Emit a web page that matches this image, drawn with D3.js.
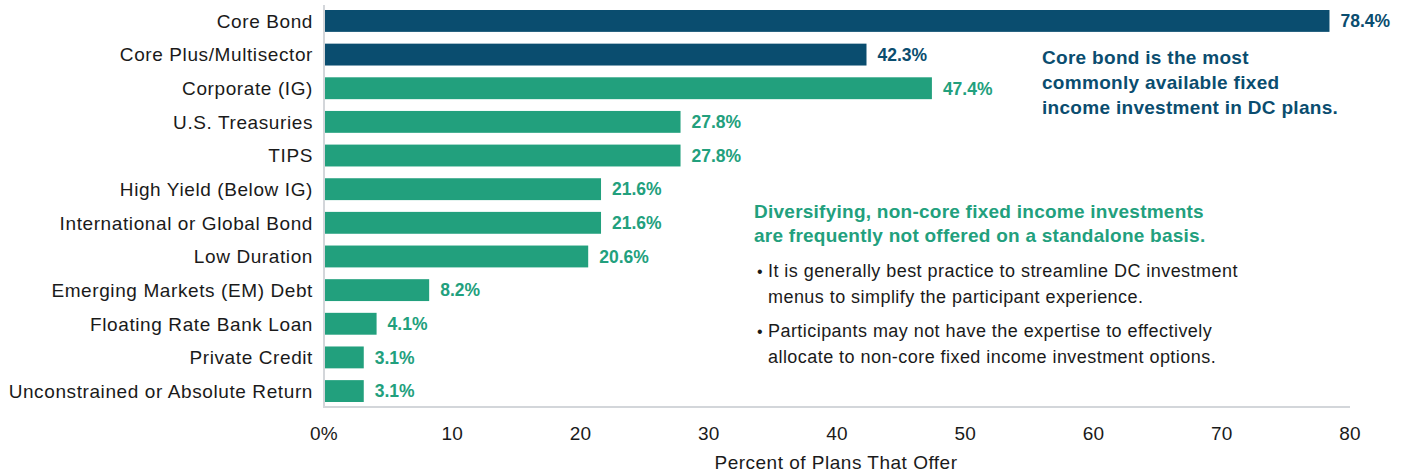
<!DOCTYPE html>
<html lang="en">
<head>
<meta charset="UTF-8">
<title>Fixed income options in DC plans</title>
<style>
  body { margin: 0; background: #fff; }
  text { font-family: "Liberation Sans", Arial, sans-serif; }
</style>
</head>
<body>
<script src="https://d3js.org/d3.v7.min.js"></script>
<script>
const categories = ["Core Bond", "Core Plus/Multisector", "Corporate (IG)", "U.S. Treasuries", "TIPS",
  "High Yield (Below IG)", "International or Global Bond", "Low Duration", "Emerging Markets (EM) Debt",
  "Floating Rate Bank Loan", "Private Credit", "Unconstrained or Absolute Return"];
const values = [78.4, 42.3, 47.4, 27.8, 27.8, 21.6, 21.6, 20.6, 8.2, 4.1, 3.1, 3.1];
const isCore = [true, true, false, false, false, false, false, false, false, false, false, false];
const xTicks = [0, 10, 20, 30, 40, 50, 60, 70, 80];
const xTitle = "Percent of Plans That Offer";
const coreNote = ["Core bond is the most", "commonly available fixed", "income investment in DC plans."];
const greenNote = ["Diversifying, non-core fixed income investments", "are frequently not offered on a standalone basis."];
const bullets = [
  ["It is generally best practice to streamline DC investment", "menus to simplify the participant experience."],
  ["Participants may not have the expertise to effectively", "allocate to non-core fixed income investment options."]
];

const width = 1406, height = 472;
const blue = "#0a4d6f", green = "#22a07d", ink = "#1a1a1a";

const svg = d3.select("body").append("svg")
  .attr("width", width).attr("height", height);

const x = d3.scaleLinear().domain([0, 80]).range([324, 1350]);
const y = d3.scaleBand().domain(categories).range([10, 402]).paddingInner(0.35).paddingOuter(0);

// axis lines (no tick marks in the original)
svg.append("line").attr("x1", 324).attr("x2", 324).attr("y1", 5).attr("y2", 407)
  .attr("stroke", "#d3d6da").attr("stroke-width", 2);
svg.append("line").attr("x1", 323).attr("x2", 1350).attr("y1", 407).attr("y2", 407)
  .attr("stroke", "#d3d6da").attr("stroke-width", 2);

const rows = svg.selectAll("g.row")
  .data(categories.map((c, i) => ({ c: c, v: values[i], core: isCore[i] })))
  .enter().append("g").attr("class", "row");

rows.append("rect")
  .attr("x", x(0) + 1)
  .attr("y", d => y(d.c))
  .attr("width", d => x(d.v) - x(0) - 1)
  .attr("height", y.bandwidth())
  .attr("fill", d => d.core ? blue : green);

rows.append("text")
  .attr("x", d => x(d.v) + 11)
  .attr("y", d => y(d.c) + y.bandwidth() / 2)
  .attr("dy", "0.36em")
  .style("font-weight", "bold")
  .style("font-size", "17.5px")
  .attr("fill", d => d.core ? blue : green)
  .text(d => d.v.toFixed(1) + "%");

rows.append("text")
  .attr("x", 313)
  .attr("y", d => y(d.c) + y.bandwidth() / 2)
  .attr("dy", "0.36em")
  .attr("text-anchor", "end")
  .style("font-size", "19px")
  .style("letter-spacing", "0.6px")
  .attr("fill", ink)
  .text(d => d.c);

// x tick labels
svg.selectAll("text.tick").data(xTicks).enter().append("text")
  .attr("class", "tick")
  .attr("x", d => x(d))
  .attr("y", 440)
  .attr("text-anchor", "middle")
  .style("font-size", "19px")
  .style("letter-spacing", "0.3px")
  .attr("fill", ink)
  .text(d => d === 0 ? "0%" : d);

svg.append("text")
  .attr("x", 836).attr("y", 469)
  .attr("text-anchor", "middle")
  .style("font-size", "19px")
  .style("letter-spacing", "0.5px")
  .attr("fill", ink)
  .text(xTitle);

// annotations
svg.append("g").selectAll("text").data(coreNote).enter().append("text")
  .attr("x", 1042).attr("y", (d, i) => 64 + i * 25)
  .style("font-size", "19px").style("font-weight", "bold")
  .style("letter-spacing", "0.3px")
  .attr("fill", blue).text(d => d);

svg.append("g").selectAll("text").data(greenNote).enter().append("text")
  .attr("x", 754).attr("y", (d, i) => 218 + i * 23.5)
  .style("font-size", "19px").style("font-weight", "bold")
  .style("letter-spacing", "0.25px")
  .attr("fill", green).text(d => d);

bullets.forEach((b, bi) => {
  const y0 = 277 + bi * 60;
  svg.append("text").attr("x", 757).attr("y", y0)
    .style("font-size", "16px").attr("fill", ink).text("\u2022");
  b.forEach((line, li) => {
    svg.append("text").attr("x", 768).attr("y", y0 + li * 26)
      .style("font-size", "18px").style("letter-spacing", "0.45px")
      .attr("fill", ink).text(line);
  });
});
</script>
</body>
</html>
